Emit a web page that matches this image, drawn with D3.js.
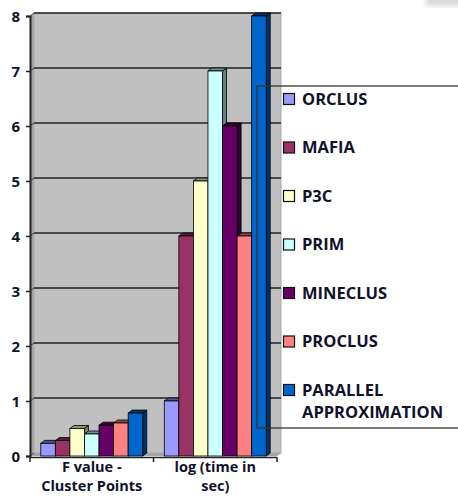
<!DOCTYPE html>
<html>
<head>
<meta charset="utf-8">
<script src="https://cdn.jsdelivr.net/npm/d3@7/dist/d3.min.js"></script>
<style>
  html, body { margin: 0; padding: 0; background: #fff; }
  svg { display: block; }
  text { font-family: "Open Sans", Lato, sans-serif; font-weight: 700; fill: #10122a; }
</style>
</head>
<body>
<svg id="chart" width="458" height="498"></svg>
<script>
// Category labels (each one split over two lines)
const categories = ["F value - Cluster Points", "log (time in sec)"];
const categoryLines = [["F value -", "Cluster Points"], ["log (time in", "sec)"]];

// Series names and colours (one bar per series in each category)
const seriesNames = ["ORCLUS", "MAFIA", "P3C", "PRIM", "MINECLUS", "PROCLUS", "PARALLEL APPROXIMATION"];
const seriesLegendLines = [["ORCLUS"], ["MAFIA"], ["P3C"], ["PRIM"], ["MINECLUS"], ["PROCLUS"], ["PARALLEL", "APPROXIMATION"]];
const seriesColors = ["#9999FF", "#993366", "#FFFFCC", "#CCFFFF", "#660066", "#FF8080", "#0066CC"];

// Values per series: [F value - Cluster Points, log (time in sec)]
const orclus   = [0.23, 1];
const mafia    = [0.28, 4];
const p3c      = [0.5, 5];
const prim     = [0.4, 7];
const mineclus = [0.56, 6];
const proclus  = [0.6, 4];
const parallel = [0.78, 8];
const seriesValues = [orclus, mafia, p3c, prim, mineclus, proclus, parallel];

const yTicks = [0, 1, 2, 3, 4, 5, 6, 7, 8];

const svg = d3.select("#chart");

// 3D depth offset of the back wall
const dx = 4, dy = -3;

const x0 = d3.scaleBand().domain(categories).range([30, 277]).paddingInner(0).paddingOuter(0);
const x1 = d3.scaleBand().domain(seriesNames).range([0, x0.bandwidth()]).paddingInner(0).paddingOuter(0.74);
const y = d3.scaleLinear().domain([0, 8]).range([456, 16]);

const left = x0.range()[0], right = x0.range()[1];
const yTop = y(8), yBot = y(0);

// Faint smudge in the top-right corner
const defs = svg.append("defs");
defs.append("filter").attr("id", "soft").append("feGaussianBlur").attr("stdDeviation", 3);
svg.append("rect").attr("x", 426).attr("y", -6).attr("width", 40).attr("height", 12)
  .attr("fill", "#d6d6d6").attr("filter", "url(#soft)");

// Back wall
svg.append("rect")
  .attr("x", left + dx).attr("y", yTop + dy)
  .attr("width", right + dx - (left + dx)).attr("height", yBot - yTop)
  .attr("fill", "#C0C0C0").attr("stroke", "#a9a9a9").attr("stroke-width", 1);

// Side wall and floor
svg.append("polygon")
  .attr("points", [[left, yTop], [left + dx, yTop + dy], [left + dx, yBot + dy], [left, yBot]].join(" "))
  .attr("fill", "#a4a4a4");
svg.append("polygon")
  .attr("points", [[left, yBot], [left + dx, yBot + dy], [right + dx, yBot + dy], [right, yBot]].join(" "))
  .attr("fill", "#a4a4a4");

// Gridlines on the back wall
svg.append("g").selectAll("line").data(yTicks.filter(d => d > 0)).join("line")
  .attr("x1", left + dx).attr("x2", right + dx)
  .attr("y1", d => y(d) + dy).attr("y2", d => y(d) + dy)
  .attr("stroke", "#222").attr("stroke-width", 1.3);
svg.append("g").selectAll("line").data(yTicks).join("line")
  .attr("x1", left).attr("x2", left + dx)
  .attr("y1", d => y(d)).attr("y2", d => y(d) + dy)
  .attr("stroke", "#444").attr("stroke-width", 1);

// Y axis
const yAxis = d3.axisLeft(y).tickValues(yTicks).tickSize(4).tickPadding(6).tickFormat(d3.format("d"));
const gy = svg.append("g").attr("transform", `translate(${left},0)`).call(yAxis);
gy.select(".domain").attr("stroke", "#222").attr("stroke-width", 2);
gy.selectAll(".tick line").attr("stroke", "#222").attr("stroke-width", 1.5);
gy.selectAll(".tick text").attr("font-size", 15).attr("font-family", "'Open Sans', sans-serif")
  .attr("font-weight", 700).attr("fill", "#10122a").attr("dy", "0.35em");

// X axis
const xAxis = d3.axisBottom(x0).tickSize(5).tickFormat("");
const gx = svg.append("g").attr("transform", `translate(0,${yBot + 1})`).call(xAxis);
gx.select(".domain").attr("stroke", "#222").attr("stroke-width", 1.5).attr("d", `M${left},0.5H${right}`);
gx.selectAll(".tick").remove();
gx.selectAll(".sep").data([left, ...categories.map(c => x0(c) + x0.bandwidth())]).join("line")
  .attr("class", "sep").attr("x1", d => d).attr("x2", d => d).attr("y1", 0).attr("y2", 5)
  .attr("stroke", "#222").attr("stroke-width", 1.5);

// Category labels
categories.forEach((c, i) => {
  const cx = x0(c) + x0.bandwidth() / 2;
  const t = svg.append("text").attr("text-anchor", "middle").attr("font-size", 14.5)
    .attr("x", cx).attr("y", 472);
  categoryLines[i].forEach((ln, j) => {
    t.append("tspan").attr("x", cx).attr("dy", j === 0 ? 0 : 19).text(ln);
  });
});

// 3D bars, drawn left to right so each bar hides its neighbour's side face
const barsG = svg.append("g");
categories.forEach((c, ci) => {
  seriesNames.forEach((s, si) => {
    const v = seriesValues[si][ci];
    const col = d3.color(seriesColors[si]);
    const bx = x0(c) + x1(s), bw = x1.bandwidth();
    const top = y(v), bot = y(0);
    const g = barsG.append("g");
    g.append("polygon")
      .attr("points", [[bx + bw, top], [bx + bw + dx, top + dy], [bx + bw + dx, bot + dy], [bx + bw, bot]].join(" "))
      .attr("fill", col.darker(1.9)).attr("stroke", "#000").attr("stroke-width", 0.8);
    g.append("polygon")
      .attr("points", [[bx, top], [bx + dx, top + dy], [bx + bw + dx, top + dy], [bx + bw, top]].join(" "))
      .attr("fill", col.darker(1.6)).attr("stroke", "#000").attr("stroke-width", 0.8);
    g.append("rect")
      .attr("x", bx).attr("y", top).attr("width", bw).attr("height", bot - top)
      .attr("fill", col).attr("stroke", "#000").attr("stroke-width", 0.8);
  });
});

// Legend (transparent box running past the right edge)
const lg = svg.append("g");
lg.append("rect").attr("x", 257).attr("y", 86).attr("width", 260).attr("height", 342)
  .attr("fill", "none").attr("stroke", "#333").attr("stroke-width", 1.3);
const legendY = d3.scalePoint().domain(seriesNames).range([99, 390]);
seriesNames.forEach((s, i) => {
  const cy = legendY(s);
  lg.append("rect").attr("x", 283.5).attr("y", cy - 5.5).attr("width", 11).attr("height", 11)
    .attr("fill", seriesColors[i]).attr("stroke", "#111").attr("stroke-width", 1.2);
  const t = lg.append("text").attr("font-size", 16.5).attr("x", 302).attr("y", cy);
  seriesLegendLines[i].forEach((ln, j) => {
    t.append("tspan").attr("x", 302).attr("dy", j === 0 ? "0.36em" : 22).text(ln);
  });
});
</script>
</body>
</html>
